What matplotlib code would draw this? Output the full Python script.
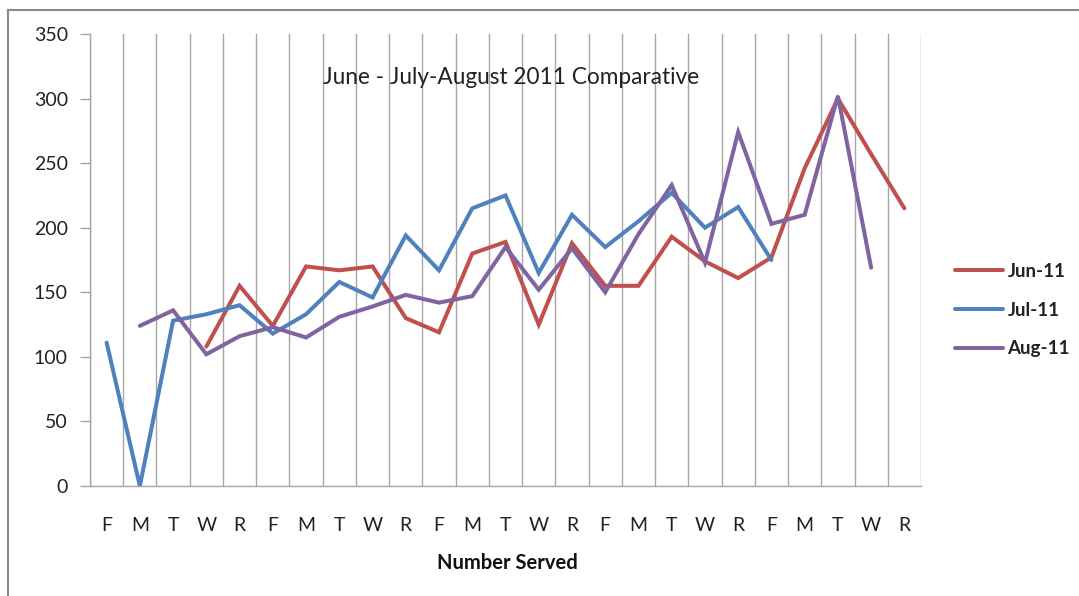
import numpy as np
import matplotlib
matplotlib.use("Agg")
import matplotlib.pyplot as plt
from matplotlib.lines import Line2D

plt.rcParams['font.family'] = ['Lato', 'DejaVu Sans']

days = ["F", "M", "T", "W", "R", "F", "M", "T", "W", "R", "F", "M", "T",
        "W", "R", "F", "M", "T", "W", "R", "F", "M", "T", "W", "R"]
nan = np.nan
jun = [nan, nan, nan, 108, 155, 124, 170, 167, 170, 130, 119, 180, 189,
       125, 188, 155, 155, 193, 174, 161, 177, 246, 300, 257, 215]
jul = [111, 0, 128, 133, 140, 118, 133, 158, 146, 194, 167, 215, 225,
       165, 210, 185, 205, 227, 200, 216, 175, nan, nan, nan, nan]
aug = [nan, 124, 136, 102, 116, 123, 115, 131, 139, 148, 142, 147, 185,
       152, 184, 150, 195, 233, 173, 274, 203, 210, 302, 169, nan]
series = [("Jun-11", jun, "#C0504D"), ("Jul-11", jul, "#4F81BD"), ("Aug-11", aug, "#8064A2")]
yticks = [0, 50, 100, 150, 200, 250, 300, 350]

W, H = 1079, 596
fig = plt.figure(figsize=(W / 100, H / 100), dpi=100)
fig.patch.set_facecolor("white")

# outer chart border
fig.add_artist(Line2D([8 / W, 1], [1 - 10 / H, 1 - 10 / H], transform=fig.transFigure,
                      color="#8a8a8a", lw=1.5))
fig.add_artist(Line2D([8 / W, 8 / W], [0, 1 - 10 / H], transform=fig.transFigure,
                      color="#8a8a8a", lw=1.5))

ax = fig.add_axes([90 / W, (H - 486) / H, (921 - 90) / W, (486 - 34) / H])
x = np.arange(len(days))
for name, vals, col in series:
    ax.plot(x, vals, color=col, lw=2.9, label=name, solid_capstyle="round",
            solid_joinstyle="miter", zorder=3)

ax.set_xlim(-0.5, len(days) - 0.5)
ax.set_ylim(0, 350)
ax.set_yticks(yticks)
ax.set_xticks(x)
ax.set_xticklabels(days)
ax.set_xticks(np.arange(len(days) + 1) - 0.5, minor=True)
ax.grid(which="minor", axis="x", color="#a6a6a6", lw=1.0)
ax.tick_params(axis="x", which="both", length=0, pad=22, labelsize=14, labelcolor="#222222")
ax.tick_params(axis="y", length=7, width=1, color="#a6a6a6", pad=9, labelsize=14,
               labelcolor="#222222")
for s in ["top", "right"]:
    ax.spines[s].set_visible(False)
for s in ["left", "bottom"]:
    ax.spines[s].set_color("#a6a6a6")
    ax.spines[s].set_linewidth(1.0)

ax.text(0.507, 1 - (77 - 34) / 452, "June - July-August 2011 Comparative",
        transform=ax.transAxes, ha="center", va="center", fontsize=16.3, color="#222222")

fig.text(507 / W, 1 - 563 / H, "Number Served", ha="center", va="center",
         fontsize=14.5, fontweight="bold", color="#111111")

leg = fig.legend(loc="upper left", bbox_to_anchor=(955 / W, 1 - 263 / H),
                 frameon=False, borderpad=0, borderaxespad=0, handlelength=2.55,
                 handletextpad=0.25, labelspacing=1.15,
                 prop={"size": 13.5, "weight": "bold"})
for t in leg.get_texts():
    t.set_color("#222222")

fig.savefig("out.png", dpi=100)
